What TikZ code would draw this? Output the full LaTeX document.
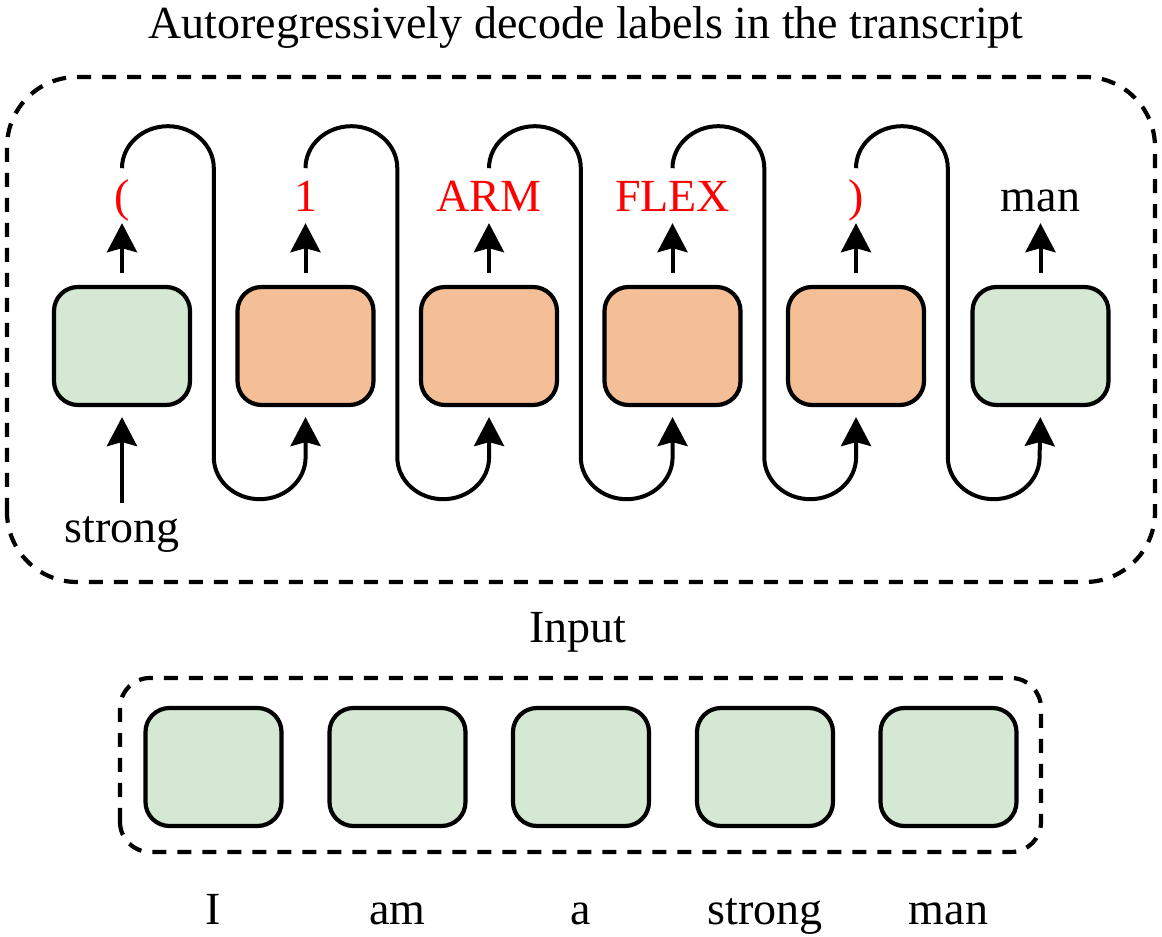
\documentclass[tikz,border=0pt]{standalone}
\usepackage{fontspec}
\setmainfont{Liberation Serif}
\usetikzlibrary{arrows.meta}
\definecolor{gfill}{HTML}{D5E8D4}
\definecolor{ofill}{HTML}{F4BF96}
\tikzset{
  cell/.style={draw=black, line width=4.2pt, rounded corners=24pt, minimum width=136pt, minimum height=118pt, inner sep=0pt},
  gcell/.style={cell, fill=gfill},
  ocell/.style={cell, fill=ofill},
  frame/.style={draw=black, line width=4.2pt, dash pattern=on 14pt off 11pt},
  conn/.style={draw=black, line width=4pt},
  arr/.style={conn, -{Stealth[length=29pt,width=30pt,inset=4pt]}},
  txt/.style={font=\fontsize{46}{50}\selectfont, inner sep=0pt, anchor=base, text depth=0pt},
  red/.style={txt, text=red}
}
\begin{document}
\begin{tikzpicture}[x=1pt,y=1pt]
\useasboundingbox (0,0) rectangle (1162,937);
% title
\node[txt] (title) at (586,898) {Autoregressively decode labels in the transcript};
% top frame
\draw[frame, rounded corners=70pt] (7,355) rectangle (1155,860);
% top cells
\node[gcell] (b1) at (122,591) {};
\node[ocell] (b2) at (305.5,591) {};
\node[ocell] (b3) at (489,591) {};
\node[ocell] (b4) at (672.5,591) {};
\node[ocell] (b5) at (856,591) {};
\node[gcell] (b6) at (1040.5,591) {};
% labels
\node[red] (l1) at (122,725) {(};
\node[red] (l2) at (305.5,725) {1};
\node[red] (l3) at (489,725) {ARM};
\node[red] (l4) at (672.5,725) {FLEX};
\node[red] (l5) at (856,725) {)};
\node[txt] (l6) at (1040.5,725) {man};
\node[txt] (in) at (122,394) {strong};
% output arrows
\foreach \i in {1,...,6}{
  \draw[arr, shorten <=12pt, shorten >=11pt] (b\i.north) -- (l\i.south);
}
% input arrow
\draw[arr, shorten <=14pt, shorten >=10pt] (in.north) -- (b1.south);
% loops
\foreach \i/\j in {1/2,2/3,3/4,4/5,5/6}{
  \coordinate (s\i) at ([yshift=44pt]l\i.south);
  \draw[arr, shorten >=10pt] (s\i) arc[start angle=180, end angle=0, x radius=45.9, y radius=42]
     -- ++(0,-289) arc[start angle=180, end angle=360, x radius=45.9, y radius=42]
     -- (b\j.south);
}
% input label
\node[txt] (inp) at (578,294) {Input};
% bottom frame
\draw[frame, rounded corners=30pt] (120,85) rectangle (1041,259);
% bottom cells
\node[gcell] (c1) at (213.5,170) {};
\node[gcell] (c2) at (397.5,170) {};
\node[gcell] (c3) at (581,170) {};
\node[gcell] (c4) at (765,170) {};
\node[gcell] (c5) at (948.5,170) {};
% words
\node[txt] (w1) at (213.5,12) {I};
\node[txt] (w2) at (397.5,12) {am};
\node[txt] (w3) at (581,12) {a};
\node[txt] (w4) at (765,12) {strong};
\node[txt] (w5) at (948.5,12) {man};
\end{tikzpicture}
\end{document}
